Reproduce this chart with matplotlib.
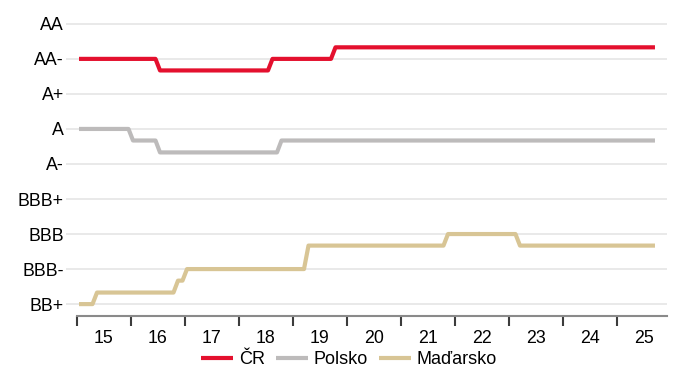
import matplotlib.pyplot as plt
import numpy as np
import pandas as pd

plt.rcParams['font.family'] = ['Liberation Sans', 'DejaVu Sans']

# rating scale (0 = BB+ ... 8 = AA), values are agency averages
rating_labels = ["BB+", "BBB-", "BBB", "BBB+", "A-", "A", "A+", "AA-", "AA"]
year_labels = ["15", "16", "17", "18", "19", "20", "21", "22", "23", "24", "25"]

first_month = "2015-01"
last_month = "2025-09"

# months where the average rating changed, and the new level
cr_changes = ["2015-01", "2016-07", "2018-08", "2019-10"]
cr_levels = [7, 6.67, 7, 7.33]

pl_changes = ["2015-01", "2016-01", "2016-07", "2018-10"]
pl_levels = [5, 4.67, 4.33, 4.67]

hu_changes = ["2015-01", "2015-05", "2016-11", "2017-01", "2019-04", "2021-11", "2023-03"]
hu_levels = [0, 0.33, 0.67, 1, 1.67, 2, 1.67]

names = ["ČR", "Polsko", "Maďarsko"]
colors = ["#e4102e", "#bdbbbb", "#d8c595"]


def monthly(changes, levels):
    idx = pd.period_range(first_month, last_month, freq="M")
    s = pd.Series(np.nan, index=idx)
    for c, v in zip(changes, levels):
        s[pd.Period(c, freq="M")] = v
    s = s.ffill()
    x = idx.year + (idx.month - 0.5) / 12
    return np.asarray(x), s.values


fig = plt.figure(figsize=(6.73, 3.69), dpi=100)
ax = fig.add_axes([0.098, 0.1436, 0.893, 0.8022])

series = [(cr_changes, cr_levels), (pl_changes, pl_levels), (hu_changes, hu_levels)]
for (ch, lv), name, col in zip(series, names, colors):
    x, y = monthly(ch, lv)
    ax.plot(x, y, color=col, lw=3, label=name, solid_capstyle="butt", zorder=3)

x_right = 2025.93
ax.set_xlim(2014.8, x_right)
ax.set_ylim(-0.34, 8.11)

ax.set_yticks(range(len(rating_labels)))
ax.set_yticklabels(rating_labels, fontsize=12.8)
ax.tick_params(axis="y", length=0, pad=1.5)
ax.grid(True, axis="y", color="#e3e3e3", lw=1.1, zorder=0)

years = np.arange(2015, 2026)
ax.set_xticks(years)
ax.set_xticklabels([])
ax.set_xticks(years + 0.5, minor=True)
ax.set_xticklabels(year_labels, minor=True, fontsize=12.8)
ax.tick_params(axis="x", which="major", length=7, width=1.5, color="#3c3c3c", direction="out")
ax.tick_params(axis="x", which="minor", length=0, pad=10)

for side in ["top", "right", "left"]:
    ax.spines[side].set_visible(False)
ax.spines["bottom"].set_color("#8a8a8a")
ax.spines["bottom"].set_linewidth(1.5)
ax.spines["bottom"].set_bounds(2015, x_right)

fig.legend(loc="center", bbox_to_anchor=(0.519, 0.025), ncol=3, frameon=False,
           fontsize=13, handlelength=1.75, handletextpad=0.35, columnspacing=0.6,
           borderaxespad=0)

fig.savefig("out.png", dpi=100)
